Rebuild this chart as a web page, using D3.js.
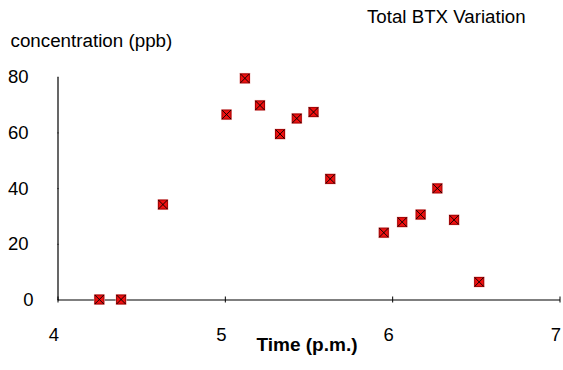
<!DOCTYPE html>
<html>
<head>
<meta charset="utf-8">
<script src="https://cdn.jsdelivr.net/npm/d3@7"></script>
<style>
  body { margin: 0; background: #fff; }
  text { font-family: Arial, "Liberation Sans", sans-serif; fill: #000; }
</style>
</head>
<body>
<svg width="563" height="370"></svg>
<script>
// data
const times = [4.25, 4.38, 4.63, 5.01, 5.12, 5.21, 5.33, 5.43, 5.53, 5.63, 5.95, 6.06, 6.17, 6.27, 6.37, 6.52];
const conc  = [0, 0, 34.1, 66.4, 79.4, 69.7, 59.4, 65.0, 67.3, 43.3, 24.0, 27.8, 30.5, 39.9, 28.6, 6.3];
const xTicks = [4, 5, 6, 7];
const yTicks = [0, 20, 40, 60, 80];

const points = times.map((t, i) => ({ t: t, c: conc[i] }));

let svg = d3.select("svg");

var x = d3.scaleLinear().domain([4, 7]).range([57.5, 559.5]);
var y = d3.scaleLinear().domain([0, 80]).range([299.5, 76.7]);

// X axis
let xAxis = svg.append("g")
    .attr("transform", "translate(0,299.5)")
    .call(d3.axisBottom(x).tickValues(xTicks).tickSizeOuter(0).tickSizeInner(3).tickPadding(25).tickFormat(d3.format("d")));
xAxis.selectAll(".tick line").attr("y1", -3).attr("y2", 3);
xAxis.selectAll(".tick text").attr("dx", -4).style("font-size", "18.5px").style("font-family", "Arial, 'Liberation Sans', sans-serif");
xAxis.select(".domain").attr("stroke-width", 1.2);

// Y axis
let yAxis = svg.append("g")
    .attr("transform", "translate(57.5,0)")
    .call(d3.axisLeft(y).tickValues(yTicks).tickSizeOuter(0).tickSizeInner(4).tickPadding(25).tickFormat(d3.format("d")));
yAxis.selectAll(".tick line").attr("x2", 1);
yAxis.selectAll(".tick text")
    .attr("dx", (d) => d === 0 ? 5 : 0)
    .style("font-size", "18.5px").style("font-family", "Arial, 'Liberation Sans', sans-serif");
yAxis.select(".domain").attr("stroke-width", 1.2);

// markers
let marks = svg.append("g");
let m = marks.selectAll("g")
    .data(points)
    .enter()
    .append("g")
    .attr("transform", (d) => `translate(${x(d.t)},${y(d.c)})`);

m.append("rect")
    .attr("x", -5.5).attr("y", -5.5)
    .attr("width", 11).attr("height", 11)
    .attr("fill", "#f6c6c6");
m.append("rect")
    .attr("x", -4.5).attr("y", -4.5)
    .attr("width", 9).attr("height", 9)
    .attr("fill", "#f01010")
    .attr("stroke", "#a00000")
    .attr("stroke-width", 1);
m.append("path")
    .attr("d", "M-4.5,-4.5L4.5,4.5M4.5,-4.5L-4.5,4.5")
    .attr("stroke", "#000")
    .attr("stroke-width", 0.9)
    .attr("fill", "none");

// titles
svg.append("text")
    .attr("x", 367)
    .attr("y", 22.7)
    .style("font-size", "18.7px")
    .text("Total BTX Variation");

svg.append("text")
    .attr("x", 10.5)
    .attr("y", 47)
    .style("font-size", "18.8px")
    .text("concentration (ppb)");

svg.append("text")
    .attr("x", 307)
    .attr("y", 351)
    .style("text-anchor", "middle")
    .style("font-size", "19px")
    .style("font-weight", "bold")
    .text("Time (p.m.)");
</script>
</body>
</html>
